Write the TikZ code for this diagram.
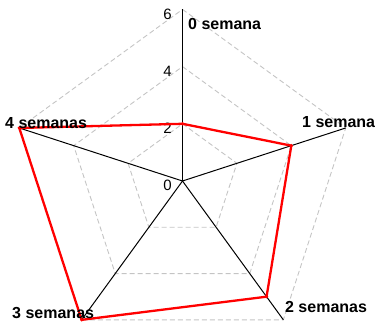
\documentclass[tikz,border=0pt]{standalone}
\usepackage{fontspec}
\setmainfont{Liberation Sans}
\usetikzlibrary{positioning, calc}
\definecolor{gridGray}{HTML}{C4C4C4}
\definecolor{dataRed}{HTML}{FF0000}
\tikzstyle{gridline} =[gridGray, dash pattern=on 5pt off 3pt, line width=0.9pt]
\tikzstyle{axisline} =[black, line width=1pt]
\tikzstyle{dataline} =[dataRed, line width=2.3pt, line join=round]
\tikzstyle{weeklabel} =[font=\bfseries\fontsize{16}{19}\selectfont, inner sep=0pt, anchor=base west]
\tikzstyle{ticklabel} =[font=\fontsize{15}{18}\selectfont, inner sep=0pt]
\def\unitlen{28.6}

\begin{document}
\begin{tikzpicture}[x=1pt, y=1pt]
\useasboundingbox (0,0) rectangle (375,325);
\coordinate (center) at (182.5,144);

% axis ends
\foreach \ang/\name in {90/a0, 18/a1, -54/a2, -126/a3, 162/a4}
	\coordinate (\name) at ($(center)+(\ang:6*\unitlen)$);

% grid
\foreach \r in {2,4,6}
	\draw[gridline] ($(center)+(90:\r*\unitlen)$) -- ($(center)+(18:\r*\unitlen)$) -- ($(center)+(-54:\r*\unitlen)$) -- ($(center)+(-126:\r*\unitlen)$) -- ($(center)+(162:\r*\unitlen)$) -- cycle;

\foreach \name in {a0, a1, a2, a3, a4}
	\draw[axisline] (center) -- (\name);

% tick values
\foreach \r in {0,2,4,6}
	\node (tick\r) [ticklabel] at ($(center)+(90:\r*\unitlen)+(-15,-4.5)$) {\r};

% data
\coordinate (d0) at ($(center)+(90:2*\unitlen)$);
\coordinate (d1) at ($(center)+(18:4*\unitlen)$);
\coordinate (d2) at ($(center)+(-54:5*\unitlen)$);
\coordinate (d3) at ($(center)+(-126:6*\unitlen)$);
\coordinate (d4) at ($(center)+(162:6*\unitlen)$);

\draw[dataline] (d0) -- (d1) -- (d2) -- (d3) -- (d4) -- cycle;
\foreach \name in {d0, d1, d2, d3, d4}
	\fill[dataRed] (\name) circle (1.8pt);

% week labels
\node (w0) [weeklabel] at ($(a0)+(5.5,-19.6)$) {0 semana};
\node (w1) [weeklabel] at ($(a1)+(-43.7,0)$) {1 semana};
\node (w2) [weeklabel] at ($(a2)+(1.6,7.8)$) {2 semanas};
\node (w3) [weeklabel] at ($(a3)+(-69.6,1.8)$) {3 semanas};
\node (w4) [weeklabel] at ($(a4)+(-14.3,-1)$) {4 semanas};

\end{tikzpicture}
\end{document}
